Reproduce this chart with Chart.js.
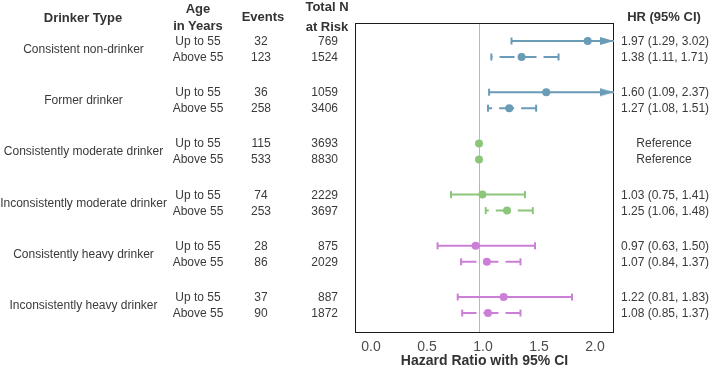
<!DOCTYPE html>
<html>
<head>
<meta charset="utf-8">
<script src="https://cdn.jsdelivr.net/npm/chart.js@4.4.1/dist/chart.umd.min.js"></script>
<style>
  body { margin: 0; background: #fff; }
  #wrap { position: relative; width: 709px; height: 368px; font-family: "Liberation Sans", Arial, sans-serif; color: #3a3a3a; }
  #plot { position: absolute; left: 0; top: 0; }
  .t { position: absolute; white-space: nowrap; font-size: 12px; line-height: 1; }
  .c { transform: translate(-50%, -50%); }
  .r { transform: translate(-100%, -50%); }
  .l { transform: translate(0, -50%); }
  .h { font-weight: bold; font-size: 13px; color: #333; }
</style>
</head>
<body>
<div id="wrap">
  <canvas id="plot" width="709" height="368"></canvas>
</div>
<script>
const drinkerTypes = ['Consistent non-drinker', 'Former drinker', 'Consistently moderate drinker',
  'Inconsistently moderate drinker', 'Consistently heavy drinker', 'Inconsistently heavy drinker'];
const ageGroups = ['Up to 55', 'Above 55'];
const events = [32, 123, 36, 258, 115, 533, 74, 253, 28, 86, 37, 90];
const totalN = [769, 1524, 1059, 3406, 3693, 8830, 2229, 3697, 875, 2029, 887, 1872];
const hr = [1.97, 1.38, 1.60, 1.27, 1.00, 1.00, 1.03, 1.25, 0.97, 1.07, 1.22, 1.08];
const lower = [1.29, 1.11, 1.09, 1.08, null, null, 0.75, 1.06, 0.63, 0.84, 0.81, 0.85];
const upper = [3.02, 1.71, 2.37, 1.51, null, null, 1.41, 1.48, 1.50, 1.37, 1.83, 1.37];
const xTicks = [0, 0.5, 1.0, 1.5, 2.0];
const groupColors = ['#6a9bb7', '#6a9bb7', '#8cc67a', '#8cc67a', '#cc7fd6', '#cc7fd6'];

const FONT = '"Liberation Sans", Arial, sans-serif';
const X_MIN = -0.107, X_MAX = 2.205;

// row positions: two rows per drinker type, a gap between types
const rowY = events.map((_, i) => Math.floor(i / 2) * 3.2 + (i % 2));

// arrow head for intervals running past the axis
function makeArrow(color) {
  const c = document.createElement('canvas');
  c.width = 30; c.height = 10;
  const g = c.getContext('2d');
  g.fillStyle = color;
  g.beginPath();
  g.moveTo(15, 5); g.lineTo(1, 1); g.lineTo(1, 9);
  g.closePath();
  g.fill();
  return c;
}

const ciSets = [];
hr.forEach((v, i) => {
  if (lower[i] == null) return;
  const col = groupColors[Math.floor(i / 2)];
  const over = upper[i] > X_MAX;
  ciSets.push({
    showLine: true,
    // drawn right to left so the dash pattern starts at the upper end
    data: [{ x: Math.min(upper[i], X_MAX), y: rowY[i] }, { x: lower[i], y: rowY[i] }],
    borderColor: col,
    borderWidth: 2,
    borderDash: i % 2 ? [15, 7] : [],
    pointStyle: [over ? makeArrow(col) : 'line', 'line'],
    pointRotation: [over ? 0 : 90, 90],
    pointRadius: 3.5,
    pointBorderWidth: 2,
    pointBorderColor: col,
    pointBackgroundColor: col,
    order: 1,
    clip: false
  });
});

const dotSet = {
  data: hr.map((v, i) => ({ x: v, y: rowY[i] })),
  pointRadius: 4,
  pointBorderWidth: 0,
  pointBackgroundColor: hr.map((v, i) => groupColors[Math.floor(i / 2)]),
  order: 0,
  clip: false
};

const framePlugin = {
  id: 'frame',
  beforeDatasetsDraw(chart) {
    const { ctx, chartArea: a } = chart;
    ctx.save();
    ctx.strokeStyle = '#1a1a1a';
    ctx.lineWidth = 1;
    ctx.strokeRect(a.left + 0.5, a.top + 0.5, a.right - a.left - 1, a.bottom - a.top - 1);
    ctx.restore();
  }
};

const chart = new Chart(document.getElementById('plot'), {
  type: 'scatter',
  data: { datasets: [dotSet, ...ciSets] },
  options: {
    responsive: false,
    devicePixelRatio: 1,
    animation: false,
    events: [],
    layout: { padding: { left: 355, right: 95, top: 23, bottom: 0 } },
    plugins: { legend: { display: false }, tooltip: { enabled: false } },
    scales: {
      x: {
        type: 'linear',
        min: X_MIN,
        max: X_MAX,
        afterFit: s => { s.height = 35; },
        afterBuildTicks: s => { s.ticks = xTicks.map(v => ({ value: v })); },
        ticks: {
          padding: 6,
          labelOffset: 4,
          color: '#4d4d4d',
          font: { family: FONT, size: 14 },
          callback: v => Number(v).toFixed(1)
        },
        grid: {
          drawTicks: false,
          lineWidth: 1,
          color: c => (c.tick && c.tick.value === 1 ? '#b8b8b8' : 'rgba(0,0,0,0)')
        },
        border: { display: false },
        title: {
          display: true,
          text: 'Hazard Ratio with 95% CI',
          color: '#333',
          font: { family: FONT, size: 14, weight: 'bold', lineHeight: 1 },
          padding: { top: 0, bottom: 0 }
        }
      },
      y: { type: 'linear', display: false, min: -1.125, max: 18.25, reverse: true }
    }
  },
  plugins: [framePlugin]
});

// table text, placed on the chart's own y scale
const wrap = document.getElementById('wrap');
function addText(text, x, y, cls) {
  const d = document.createElement('div');
  d.className = 't ' + cls;
  d.textContent = text;
  d.style.left = x + 'px';
  d.style.top = y + 'px';
  wrap.appendChild(d);
}

addText('Drinker Type', 83, 17, 'c h');
addText('Age', 198, 8, 'c h');
addText('in Years', 198, 25, 'c h');
addText('Events', 263, 16, 'c h');
addText('Total N', 327, 6, 'c h');
addText('at Risk', 327, 26, 'c h');
addText('HR (95% CI)', 664, 16, 'c h');

const ys = chart.scales.y;
drinkerTypes.forEach((name, g) => {
  addText(name, 83.5, ys.getPixelForValue(g * 3.2 + 0.5), 'c');
});
hr.forEach((v, i) => {
  const py = ys.getPixelForValue(rowY[i]);
  addText(ageGroups[i % 2], 198, py, 'c');
  addText(String(events[i]), 261, py, 'c');
  addText(String(totalN[i]), 338, py, 'r');
  if (lower[i] == null) {
    addText('Reference', 664, py, 'c');
  } else {
    addText(`${v.toFixed(2)} (${lower[i].toFixed(2)}, ${upper[i].toFixed(2)})`, 621, py, 'l');
  }
});
</script>
</body>
</html>
